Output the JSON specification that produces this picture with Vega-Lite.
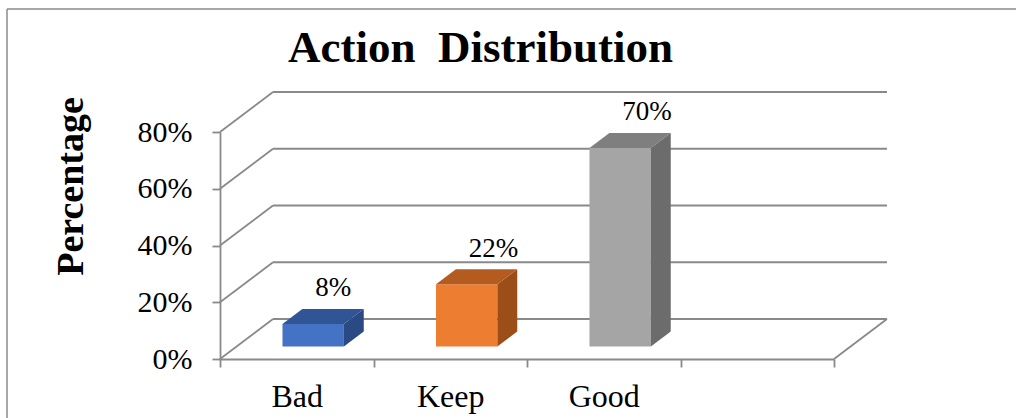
{
  "$schema": "https://vega.github.io/schema/vega-lite/v6.json",
  "width": 1009,
  "height": 409,
  "autosize": {"type": "none"},
  "padding": {"left": 7, "top": 9, "right": 0, "bottom": 0},
  "background": "white",
  "config": {
    "font": "Liberation Serif",
    "view": {"stroke": "#8c8c8c", "strokeWidth": 1.5, "strokeDash": [1009, 1418, 409, 0]}
  },
  "title": {
    "text": "Action\u00a0 Distribution",
    "font": "Liberation Serif",
    "fontSize": 45,
    "fontWeight": "bold",
    "color": "#000000",
    "anchor": "middle",
    "frame": "group",
    "dx": -31,
    "offset": -98,
    "baseline": "alphabetic"
  },
  "datasets": {
    "actions": [
      {"action": "Bad", "share": 0.08},
      {"action": "Keep", "share": 0.22},
      {"action": "Good", "share": 0.70}
    ],
    "levels": [
      {"level": 0},
      {"level": 0.2},
      {"level": 0.4},
      {"level": 0.6},
      {"level": 0.8}
    ]
  },
  "resolve": {"scale": {"x": "independent", "color": "independent"}},
  "layer": [
    {
      "description": "category axis and percentage axis",
      "data": {"name": "actions"},
      "mark": {"type": "point", "opacity": 0},
      "encoding": {
        "x": {
          "field": "action",
          "type": "nominal",
          "scale": {"type": "band", "domain": ["Bad", "Keep", "Good", " "], "range": [213, 827], "padding": 0},
          "axis": {
            "orient": "bottom",
            "offset": -59,
            "tickBand": "extent",
            "domainColor": "#898989",
            "domainWidth": 1.8,
            "tickColor": "#898989",
            "tickSize": 8,
            "tickWidth": 1.8,
            "labelFont": "Liberation Serif",
            "labelFontSize": 32,
            "labelColor": "#000000",
            "labelPadding": 39,
            "labelBaseline": "alphabetic",
            "labelAngle": 0,
            "title": null,
            "grid": false
          }
        },
        "y": {
          "field": "share",
          "type": "quantitative",
          "scale": {"type": "linear", "domain": [0, 0.8], "range": [350, 123], "nice": false},
          "axis": {
            "values": [0, 0.2, 0.4, 0.6, 0.8],
            "format": ".0%",
            "offset": -213,
            "grid": false,
            "domainColor": "#898989",
            "domainWidth": 1.8,
            "tickColor": "#898989",
            "tickSize": 8,
            "tickWidth": 1.8,
            "labelFont": "Liberation Serif",
            "labelFontSize": 30,
            "labelColor": "#000000",
            "labelPadding": 20,
            "title": "Percentage",
            "titleFont": "Liberation Serif",
            "titleFontSize": 38,
            "titleFontWeight": "bold",
            "titleColor": "#000000",
            "titleAngle": 270,
            "titleX": -138,
            "titleY": 177,
            "titleAlign": "center",
            "titleBaseline": "alphabetic"
          }
        }
      }
    },
    {
      "description": "side-wall gridlines running back from the value axis",
      "data": {"name": "levels"},
      "transform": [{"calculate": "datum.level + 0.141", "as": "back"}],
      "mark": {"type": "rule", "color": "#898989", "strokeWidth": 1.8},
      "encoding": {
        "x": {"datum": 0, "type": "quantitative", "scale": {"type": "linear", "domain": [0, 4], "range": [213, 827], "nice": false, "zero": false}, "axis": null},
        "x2": {"datum": 0.3453},
        "y": {"field": "level", "type": "quantitative", "scale": {"type": "linear", "domain": [0, 0.8], "range": [350, 123], "nice": false}},
        "y2": {"field": "back"}
      }
    },
    {
      "description": "back-wall gridlines",
      "data": {"name": "levels"},
      "transform": [{"calculate": "datum.level + 0.141", "as": "back"}],
      "mark": {"type": "rule", "color": "#898989", "strokeWidth": 1.8},
      "encoding": {
        "x": {"datum": 0.3453, "type": "quantitative", "scale": {"type": "linear", "domain": [0, 4], "range": [213, 827], "nice": false, "zero": false}, "axis": null},
        "x2": {"datum": 4.3453},
        "y": {"field": "back", "type": "quantitative", "scale": {"type": "linear", "domain": [0, 0.8], "range": [350, 123], "nice": false}}
      }
    },
    {
      "description": "right edge of the floor",
      "data": {"name": "levels"},
      "transform": [
        {"filter": "datum.level == 0"},
        {"calculate": "datum.level + 0.141", "as": "back"}
      ],
      "mark": {"type": "rule", "color": "#898989", "strokeWidth": 1.8},
      "encoding": {
        "x": {"datum": 4, "type": "quantitative", "scale": {"type": "linear", "domain": [0, 4], "range": [213, 827], "nice": false, "zero": false}, "axis": null},
        "x2": {"datum": 4.3453},
        "y": {"field": "level", "type": "quantitative", "scale": {"type": "linear", "domain": [0, 0.8], "range": [350, 123], "nice": false}},
        "y2": {"field": "back"}
      }
    },
    {
      "description": "front faces of the bars",
      "data": {"name": "actions"},
      "transform": [
        {"window": [{"op": "row_number", "as": "n"}]},
        {"calculate": "datum.n - 1 + 0.3 + 0.31 * 0.3453", "as": "left"},
        {"calculate": "datum.n - 1 + 0.7 + 0.31 * 0.3453", "as": "right"},
        {"calculate": "0.31 * 0.141", "as": "base"},
        {"calculate": "datum.share + 0.31 * 0.141", "as": "top"}
      ],
      "mark": {"type": "rect"},
      "encoding": {
        "x": {"field": "left", "type": "quantitative", "scale": {"type": "linear", "domain": [0, 4], "range": [213, 827], "nice": false, "zero": false}, "axis": null},
        "x2": {"field": "right"},
        "y": {"field": "base", "type": "quantitative", "scale": {"type": "linear", "domain": [0, 0.8], "range": [350, 123], "nice": false}},
        "y2": {"field": "top"},
        "color": {"field": "action", "type": "nominal", "scale": {"domain": ["Bad", "Keep", "Good"], "range": ["#4472C4", "#ED7D31", "#A5A5A5"]}, "legend": null}
      }
    },
    {
      "description": "top faces of the bars",
      "data": {"name": "actions"},
      "transform": [
        {"window": [{"op": "row_number", "as": "n"}]},
        {"calculate": "0.31", "as": "near"},
        {"calculate": "0.685", "as": "far"},
        {"fold": ["near", "far"], "as": ["edge", "depth"]},
        {"calculate": "datum.share + datum.depth * 0.141", "as": "topY"},
        {"calculate": "datum.n - 1 + 0.3 + datum.depth * 0.3453", "as": "x0"},
        {"calculate": "datum.n - 1 + 0.7 + datum.depth * 0.3453", "as": "x1"}
      ],
      "mark": {"type": "area", "orient": "horizontal"},
      "encoding": {
        "y": {"field": "topY", "type": "quantitative", "scale": {"type": "linear", "domain": [0, 0.8], "range": [350, 123], "nice": false}},
        "x": {"field": "x0", "type": "quantitative", "stack": null, "scale": {"type": "linear", "domain": [0, 4], "range": [213, 827], "nice": false, "zero": false}, "axis": null},
        "x2": {"field": "x1"},
        "detail": {"field": "action"},
        "color": {"field": "action", "type": "nominal", "scale": {"domain": ["Bad", "Keep", "Good"], "range": ["#2F5597", "#B45B1F", "#7F7F7F"]}, "legend": null}
      }
    },
    {
      "description": "side faces of the bars",
      "data": {"name": "actions"},
      "transform": [
        {"window": [{"op": "row_number", "as": "n"}]},
        {"calculate": "0.31", "as": "near"},
        {"calculate": "0.685", "as": "far"},
        {"fold": ["near", "far"], "as": ["edge", "depth"]},
        {"calculate": "datum.n - 1 + 0.7 + datum.depth * 0.3453", "as": "sideX"},
        {"calculate": "datum.depth * 0.141", "as": "base"},
        {"calculate": "datum.share + datum.depth * 0.141", "as": "topY"}
      ],
      "mark": {"type": "area", "orient": "vertical"},
      "encoding": {
        "x": {"field": "sideX", "type": "quantitative", "scale": {"type": "linear", "domain": [0, 4], "range": [213, 827], "nice": false, "zero": false}, "axis": null},
        "y": {"field": "base", "type": "quantitative", "stack": null, "scale": {"type": "linear", "domain": [0, 0.8], "range": [350, 123], "nice": false}},
        "y2": {"field": "topY"},
        "detail": {"field": "action"},
        "color": {"field": "action", "type": "nominal", "scale": {"domain": ["Bad", "Keep", "Good"], "range": ["#2B4A84", "#9C4E18", "#6C6C6C"]}, "legend": null}
      }
    },
    {
      "description": "value labels",
      "data": {"name": "actions"},
      "transform": [
        {"window": [{"op": "row_number", "as": "n"}]},
        {"calculate": "datum.n - 1 + 0.62", "as": "labelX"},
        {"calculate": "datum.share + 0.141", "as": "labelY"}
      ],
      "mark": {"type": "text", "align": "left", "baseline": "alphabetic", "font": "Liberation Serif", "fontSize": 27, "color": "#000000"},
      "encoding": {
        "x": {"field": "labelX", "type": "quantitative", "scale": {"type": "linear", "domain": [0, 4], "range": [213, 827], "nice": false, "zero": false}, "axis": null},
        "y": {"field": "labelY", "type": "quantitative", "scale": {"type": "linear", "domain": [0, 0.8], "range": [350, 123], "nice": false}},
        "text": {"field": "share", "type": "quantitative", "format": ".0%"}
      }
    }
  ]
}
